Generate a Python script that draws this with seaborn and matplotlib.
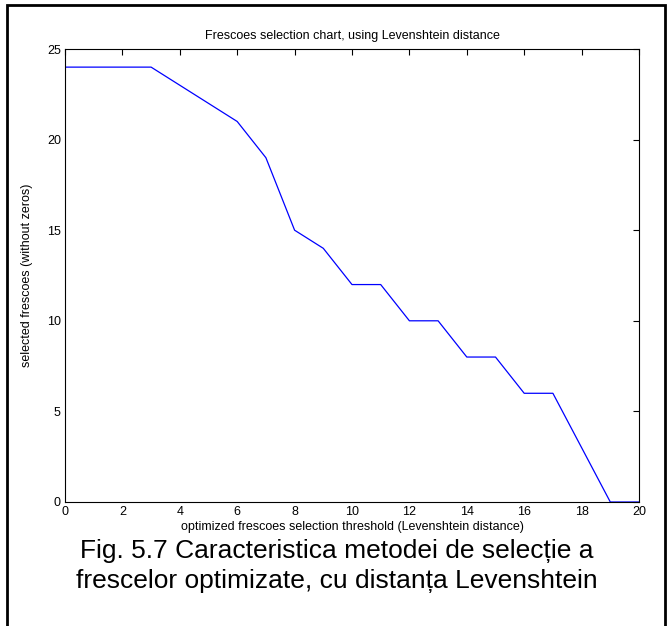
import matplotlib
matplotlib.use("Agg")
import matplotlib.pyplot as plt
import seaborn as sns
import pandas as pd
from matplotlib.patches import Rectangle

threshold = [0, 1, 2, 3, 4, 5, 6, 7, 8, 9, 10, 11, 12, 13, 14, 15, 16, 17, 18, 19, 20]
selected = [24, 24, 24, 24, 23, 22, 21, 19, 15, 14, 12, 12, 10, 10, 8, 8, 6, 6, 3, 0, 0]
xticks = [0, 2, 4, 6, 8, 10, 12, 14, 16, 18, 20]
yticks = [0, 5, 10, 15, 20, 25]

title = "Frescoes selection chart, using Levenshtein distance"
xlabel = "optimized frescoes selection threshold (Levenshtein distance)"
ylabel = "selected frescoes (without zeros)"
caption = "Fig. 5.7 Caracteristica metodei de selecție a\nfrescelor optimizate, cu distanța Levenshtein"

sns.set_style("white")
plt.rcParams['font.family'] = ['Liberation Sans', 'DejaVu Sans']
plt.rcParams['text.color'] = 'black'
plt.rcParams['axes.labelcolor'] = 'black'

df = pd.DataFrame({"x": threshold, "y": selected})

W, H = 667, 626
fig = plt.figure(figsize=(W / 100, H / 100), dpi=100)
ax = fig.add_axes([65 / W, 1 - 502 / H, (639 - 65) / W, (502 - 49) / H])

sns.lineplot(data=df, x="x", y="y", ax=ax, color="#0000ff", linewidth=0.9)

ax.set_xlim(0, 20)
ax.set_ylim(0, 25)
ax.set_xticks(xticks)
ax.set_yticks(yticks)
ax.tick_params(direction="in", length=4, width=0.8, top=True, right=True,
               labelsize=9, colors="black", pad=3)
for s in ax.spines.values():
    s.set_visible(True)
    s.set_color("black")
    s.set_linewidth(0.8)

ax.set_title(title, fontsize=9, pad=7, color="black")
ax.set_xlabel(xlabel, fontsize=9, labelpad=2, color="black")
ax.set_ylabel(ylabel, fontsize=9, labelpad=10, color="black")

fig.text(0.505, 1 - 566 / H, caption, ha="center", va="center", fontsize=19,
         linespacing=1.28, color="black")

fig.patches.append(Rectangle((7 / W, -0.05), (665 - 7) / W, 1.05 - 5 / H,
                             transform=fig.transFigure, fill=False,
                             edgecolor="black", linewidth=2))

fig.savefig("out.png", dpi=100)
